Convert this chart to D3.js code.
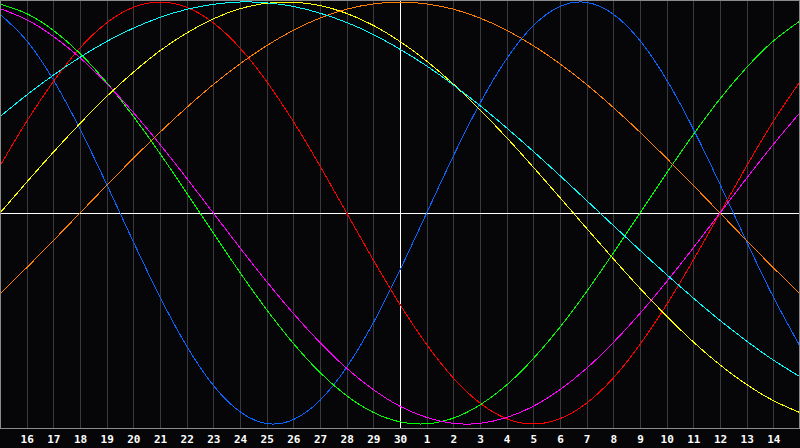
<!DOCTYPE html>
<html>
<head>
<meta charset="utf-8">
<script src="https://cdn.jsdelivr.net/npm/d3@7/dist/d3.min.js"></script>
<style>
    html, body { margin: 0; padding: 0; background: #060608; }
    svg { display: block; }
    .labels text { font-family: "DejaVu Sans Mono", monospace; font-weight: bold; font-size: 11px; fill: #ffffff; }
</style>
</head>
<body>
<div id="chart"></div>
<script>
// day labels under the grid lines (15th of one month to the 15th of the next)
const dayLabels = ['16', '17', '18', '19', '20', '21', '22', '23', '24', '25', '26', '27', '28', '29', '30',
    '1', '2', '3', '4', '5', '6', '7', '8', '9', '10', '11', '12', '13', '14'];

// cycle values for each day, -1 .. 1
const physical = [0.942, 0.817, 0.631, 0.398, 0.136, -0.136, -0.398, -0.631, -0.817, -0.942, -0.998,
    -0.979, -0.888, -0.731, -0.520, -0.270, 0, 0.270, 0.520, 0.731, 0.888,
    0.979, 0.998, 0.942, 0.817, 0.631, 0.398, 0.136, -0.136, -0.398, -0.631];
const emotional = [0.223, 0.434, 0.623, 0.782, 0.901, 0.975, 1, 0.975, 0.901, 0.782, 0.623,
    0.434, 0.223, 0, -0.223, -0.434, -0.623, -0.782, -0.901, -0.975, -1,
    -0.975, -0.901, -0.782, -0.623, -0.434, -0.223, 0, 0.223, 0.434, 0.623];
const intellectual = [0.990, 0.945, 0.866, 0.756, 0.618, 0.458, 0.282, 0.095, -0.095, -0.282, -0.458,
    -0.618, -0.756, -0.866, -0.945, -0.990, -0.999, -0.972, -0.910, -0.815, -0.690,
    -0.541, -0.372, -0.189, 0, 0.189, 0.372, 0.541, 0.690, 0.815, 0.910];
const intuitive = [0.969, 0.916, 0.837, 0.736, 0.614, 0.476, 0.325, 0.165, 0, -0.165, -0.325,
    -0.476, -0.614, -0.736, -0.837, -0.916, -0.969, -0.997, -0.997, -0.969, -0.916,
    -0.837, -0.736, -0.614, -0.476, -0.325, -0.165, 0, 0.165, 0.325, 0.476];
const aesthetic = [0, 0.146, 0.288, 0.424, 0.552, 0.667, 0.769, 0.853, 0.920, 0.968, 0.994,
    0.999, 0.983, 0.946, 0.889, 0.813, 0.720, 0.611, 0.489, 0.357, 0.217,
    0.073, -0.073, -0.217, -0.357, -0.489, -0.611, -0.720, -0.813, -0.889, -0.946];
const awareness = [-0.383, -0.259, -0.131, 0, 0.131, 0.259, 0.383, 0.5, 0.609, 0.707, 0.793,
    0.866, 0.924, 0.966, 0.991, 1, 0.991, 0.966, 0.924, 0.866, 0.793,
    0.707, 0.609, 0.5, 0.383, 0.259, 0.131, 0, -0.131, -0.259, -0.383];
const spiritual = [0.457, 0.559, 0.653, 0.738, 0.813, 0.876, 0.927, 0.965, 0.989, 1.000, 0.996,
    0.979, 0.947, 0.903, 0.846, 0.776, 0.697, 0.607, 0.509, 0.403, 0.292,
    0.177, 0.059, -0.059, -0.177, -0.292, -0.403, -0.509, -0.607, -0.697, -0.776];

const seriesNames = ['Physical', 'Emotional', 'Intellectual', 'Intuitive', 'Aesthetic', 'Awareness', 'Spiritual'];
const seriesValues = [physical, emotional, intellectual, intuitive, aesthetic, awareness, spiritual];
const seriesColors = ['#0a64ff', '#ff0000', '#00ff00', '#ff00ff', '#ffff00', '#ff8000', '#00ffff'];

const width = 800;
const height = 448;
const plotBottom = 428;

const svg = d3.select('#chart')
    .append('svg')
    .attr('width', width)
    .attr('height', height);

svg.append('rect')
    .attr('width', width)
    .attr('height', height)
    .attr('fill', '#060608');

const x = d3.scaleLinear()
    .domain([0, dayLabels.length + 1])
    .range([0, width]);

const y = d3.scaleLinear()
    .domain([-1, 1])
    .range([424, 2]);

const tickDays = d3.range(1, dayLabels.length + 1);

// vertical day grid
svg.append('g')
    .attr('transform', `translate(0,${plotBottom})`)
    .call(d3.axisBottom(x).tickValues(tickDays).tickSize(-plotBottom).tickFormat(''))
    .call(g => g.select('.domain').remove())
    .call(g => g.selectAll('line')
        .attr('stroke', '#3a3a3e')
        .attr('shape-rendering', 'crispEdges'));

// day labels
svg.append('g')
    .attr('class', 'labels')
    .attr('transform', `translate(0,${plotBottom})`)
    .call(d3.axisBottom(x).tickValues(tickDays).tickSize(0).tickPadding(4)
        .tickFormat((d, i) => dayLabels[i]))
    .call(g => g.select('.domain').remove())
    .call(g => g.selectAll('text').attr('dy', null).attr('y', 15));

// centre cross: zero line and today
svg.append('line')
    .attr('x1', 0).attr('x2', width)
    .attr('y1', y(0) + 0.5).attr('y2', y(0) + 0.5)
    .attr('stroke', '#ffffff')
    .attr('shape-rendering', 'crispEdges');

svg.append('line')
    .attr('x1', x(15) + 0.5).attr('x2', x(15) + 0.5)
    .attr('y1', 0).attr('y2', plotBottom)
    .attr('stroke', '#ffffff')
    .attr('shape-rendering', 'crispEdges');

const line = d3.line()
    .x((d, i) => x(i))
    .y(d => y(d))
    .curve(d3.curveNatural);

svg.append('g')
    .selectAll('path')
    .data(seriesValues)
    .enter()
    .append('path')
    .attr('class', (d, i) => seriesNames[i].toLowerCase())
    .attr('d', d => line(d))
    .attr('fill', 'none')
    .attr('stroke', (d, i) => seriesColors[i])
    .attr('stroke-width', 1)
    .attr('shape-rendering', 'crispEdges');

// frame
svg.append('rect')
    .attr('x', 0.5)
    .attr('y', 0.5)
    .attr('width', width - 1)
    .attr('height', plotBottom)
    .attr('fill', 'none')
    .attr('stroke', '#8a8a8a')
    .attr('shape-rendering', 'crispEdges');
</script>
</body>
</html>
